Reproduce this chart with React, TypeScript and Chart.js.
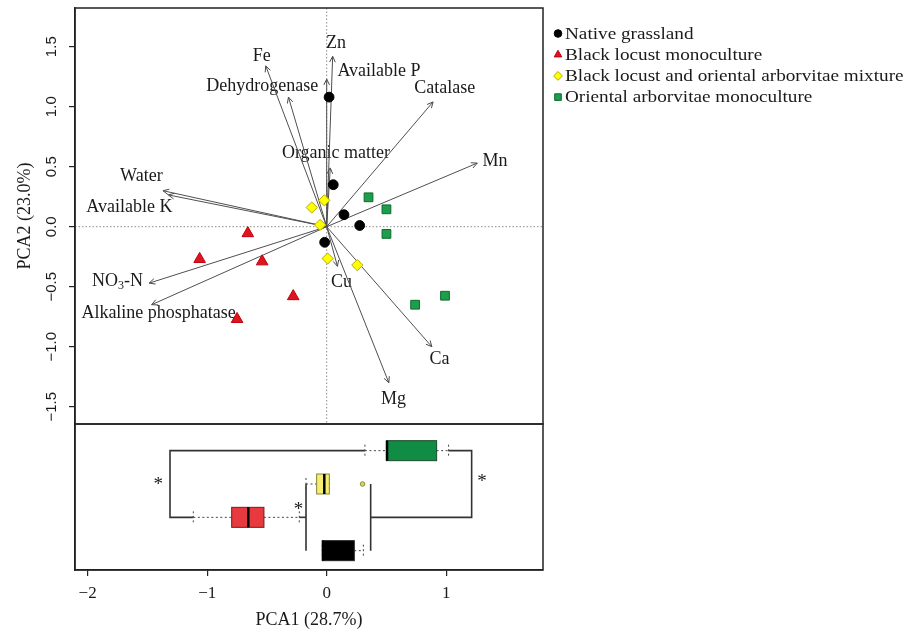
import React, { useEffect, useRef } from "react";
import { Chart, registerables } from "chart.js";

Chart.register(...registerables);

// ---------------- data ----------------
const groupNames = [
  "Native grassland",
  "Black locust monoculture",
  "Black locust and oriental arborvitae mixture",
  "Oriental arborvitae monoculture",
];

// PCA site scores
const nativePC1 = [0.02, 0.055, 0.145, 0.276, -0.017];
const nativePC2 = [1.08, 0.35, 0.1, 0.01, -0.13];
const locustPC1 = [-0.66, -1.063, -0.54, -0.28, -0.75];
const locustPC2 = [-0.055, -0.27, -0.29, -0.58, -0.77];
const mixturePC1 = [-0.125, -0.02, -0.055, 0.008, 0.256];
const mixturePC2 = [0.16, 0.22, 0.015, -0.265, -0.32];
const arborPC1 = [0.35, 0.5, 0.5, 0.99, 0.74];
const arborPC2 = [0.245, 0.145, -0.06, -0.575, -0.65];

// variable loadings (arrow tips)
const varNames = [
  "Zn", "Available P", "Fe", "Dehydrogenase", "Catalase", "Organic matter", "Mn",
  "Water", "Available K", "NO3-N", "Alkaline phosphatase", "Cu", "Mg", "Ca",
];
const varPC1 = [0.05, 0.0, -0.51, -0.32, 0.89, 0.03, 1.26, -1.37, -1.325, -1.485, -1.465, 0.09, 0.52, 0.88];
const varPC2 = [1.42, 1.23, 1.34, 1.08, 1.04, 0.49, 0.53, 0.3, 0.265, -0.47, -0.65, -0.33, -1.3, -1.0];

const xTicks = [-2, -1, 0, 1];
const yTicks = [-1.5, -1, -0.5, 0, 0.5, 1, 1.5];

// boxplot of PCA1 per group (order as groupNames)
const boxRow = [1, 2, 3, 4];
const boxLow = [-0.037, -1.116, -0.173, 0.32];
const boxQ1 = [-0.037, -0.795, -0.084, 0.5];
const boxMedian = [-0.03, -0.656, -0.02, 0.505];
const boxQ3 = [0.231, -0.525, 0.022, 0.92];
const boxHigh = [0.307, -0.229, 0.022, 1.02];
const outlierGroup = [2];
const outlierPC1 = [0.3];

// significance brackets (PCA1, row)
const bracket1X = [-1.116, -1.311, -1.311, 0.32];
const bracket1Y = [2, 2, 4, 4];
const bracket2X = [1.02, 1.213, 1.213, 0.368];
const bracket2Y = [4, 4, 2, 2];
const bracket3X = [-0.173, -0.173];
const bracket3Y = [3, 1];
const bracket4X = [0.368, 0.368];
const bracket4Y = [3, 1];
const bracket5X = [-0.229, -0.173];
const bracket5Y = [2, 2];
const starPC1 = [-1.41, 1.3, -0.235];
const starRow = [3.07, 3.14, 2.3];

// ---------------- layout / style ----------------
const LABEL_DX = [3.3, 52.3, -4, -26.3, 11.7, 5.7, 17.7, -21.6, -39, -31.6, 7, 4, 4.7, 7.7];
const LABEL_DY = [-13.3, -8, -10, -10.7, -13.3, -14.3, -2.3, -14, 12.3, -2.3, 8.3, 16, 16.6, 12.6];

const SERIF = '"Liberation Serif", "Times New Roman", serif';
const SANS = '"Liberation Sans", Arial, sans-serif';
const TEXT = "#1a1a1a";

const pointStyles = ["circle", "triangle", "rectRot", "rect"];
const pointRadii = [4.9, 6.7, 5.6, 6.2];
const pointFill = ["#000000", "#e0141e", "#ffff00", "#1c9e4b"];
const pointBorder = ["#000000", "#c00010", "#b8a800", "#0d6a30"];
const boxFill = ["#000000", "#e8393e", "#f6ee6e", "#108c45"];
const boxBorder = ["#222222", "#6a2020", "#8a8440", "#1d4a2a"];

function drawMarker(ctx: CanvasRenderingContext2D, style: string, x: number, y: number, s: number, fill: string, stroke: string) {
  ctx.save();
  ctx.fillStyle = fill;
  ctx.strokeStyle = stroke;
  ctx.lineWidth = 1;
  ctx.beginPath();
  if (style === "circle") {
    ctx.arc(x, y, s, 0, Math.PI * 2);
  } else if (style === "triangle") {
    ctx.moveTo(x, y - s);
    ctx.lineTo(x + s * 0.866, y + s * 0.5);
    ctx.lineTo(x - s * 0.866, y + s * 0.5);
    ctx.closePath();
  } else if (style === "rectRot") {
    ctx.moveTo(x - s, y);
    ctx.lineTo(x, y - s);
    ctx.lineTo(x + s, y);
    ctx.lineTo(x, y + s);
    ctx.closePath();
  } else {
    ctx.rect(x - s * 0.75, y - s * 0.75, s * 1.5, s * 1.5);
  }
  ctx.fill();
  ctx.stroke();
  ctx.restore();
}

const overlay = {
  id: "overlay",
  beforeDatasetsDraw(chart: any) {
    const ctx: CanvasRenderingContext2D = chart.ctx;
    const xs = chart.scales.x;
    const ys = chart.scales.y;
    // dotted zero lines in the biplot
    ctx.save();
    ctx.strokeStyle = "#8a8a8a";
    ctx.lineWidth = 1;
    ctx.setLineDash([1.5, 2]);
    const x0 = xs.getPixelForValue(0);
    const y0 = ys.getPixelForValue(0);
    ctx.beginPath();
    ctx.moveTo(x0, ys.top);
    ctx.lineTo(x0, ys.bottom);
    ctx.moveTo(xs.left, y0);
    ctx.lineTo(xs.right, y0);
    ctx.stroke();
    ctx.restore();

    // arrowheads and labels
    ctx.save();
    ctx.strokeStyle = "#4a4a4a";
    ctx.lineWidth = 1;
    for (let i = 0; i < varNames.length; i++) {
      const tx = xs.getPixelForValue(varPC1[i]);
      const ty = ys.getPixelForValue(varPC2[i]);
      const a = Math.atan2(ty - y0, tx - x0);
      const L = 6.5;
      const sp = 0.45;
      ctx.beginPath();
      ctx.moveTo(tx - L * Math.cos(a - sp), ty - L * Math.sin(a - sp));
      ctx.lineTo(tx, ty);
      ctx.lineTo(tx - L * Math.cos(a + sp), ty - L * Math.sin(a + sp));
      ctx.stroke();

      const lx = tx + LABEL_DX[i];
      const ly = ty + LABEL_DY[i];
      ctx.fillStyle = TEXT;
      ctx.textBaseline = "middle";
      const name = varNames[i];
      if (name === "NO3-N") {
        const big = `18px ${SERIF}`;
        const small = `12px ${SERIF}`;
        ctx.font = big;
        const w1 = ctx.measureText("NO").width;
        const w3 = ctx.measureText("-N").width;
        ctx.font = small;
        const w2 = ctx.measureText("3").width;
        let sx = lx - (w1 + w2 + w3) / 2;
        ctx.textAlign = "left";
        ctx.font = big;
        ctx.fillText("NO", sx, ly);
        ctx.font = small;
        ctx.fillText("3", sx + w1, ly + 5);
        ctx.font = big;
        ctx.fillText("-N", sx + w1 + w2, ly);
      } else {
        ctx.font = `18px ${SERIF}`;
        ctx.textAlign = "center";
        ctx.fillText(name, lx, ly);
      }
    }
    ctx.restore();
  },
  afterDatasetsDraw(chart: any) {
    const ctx: CanvasRenderingContext2D = chart.ctx;
    const xs = chart.scales.x;
    const ys = chart.scales.y;
    const yb = chart.scales.yb;

    // boxplots
    for (let g = 0; g < groupNames.length; g++) {
      const yc = yb.getPixelForValue(boxRow[g]);
      const hh = Math.abs(yb.getPixelForValue(boxRow[g] + 0.3) - yc);
      const pL = xs.getPixelForValue(boxLow[g]);
      const p1 = xs.getPixelForValue(boxQ1[g]);
      const pm = xs.getPixelForValue(boxMedian[g]);
      const p3 = xs.getPixelForValue(boxQ3[g]);
      const pH = xs.getPixelForValue(boxHigh[g]);
      ctx.save();
      ctx.strokeStyle = "#444";
      ctx.lineWidth = 1;
      ctx.setLineDash([2, 2.5]);
      ctx.beginPath();
      ctx.moveTo(pL, yc);
      ctx.lineTo(p1, yc);
      ctx.moveTo(p3, yc);
      ctx.lineTo(pH, yc);
      ctx.moveTo(pL, yc - 6);
      ctx.lineTo(pL, yc + 6);
      ctx.moveTo(pH, yc - 6);
      ctx.lineTo(pH, yc + 6);
      ctx.stroke();
      ctx.setLineDash([]);
      ctx.fillStyle = boxFill[g];
      ctx.fillRect(p1, yc - hh, p3 - p1, hh * 2);
      ctx.strokeStyle = boxBorder[g];
      ctx.strokeRect(p1, yc - hh, p3 - p1, hh * 2);
      ctx.strokeStyle = "#000";
      ctx.lineWidth = 2.5;
      ctx.beginPath();
      ctx.moveTo(pm, yc - hh);
      ctx.lineTo(pm, yc + hh);
      ctx.stroke();
      ctx.restore();
    }
    for (let k = 0; k < outlierGroup.length; k++) {
      const g = outlierGroup[k];
      const px = xs.getPixelForValue(outlierPC1[k]);
      const py = yb.getPixelForValue(boxRow[g]);
      ctx.save();
      ctx.beginPath();
      ctx.arc(px, py, 2.3, 0, Math.PI * 2);
      ctx.fillStyle = "#d6d46a";
      ctx.fill();
      ctx.strokeStyle = "#8f8f30";
      ctx.lineWidth = 1;
      ctx.stroke();
      ctx.restore();
    }
    // asterisks
    ctx.save();
    ctx.fillStyle = TEXT;
    ctx.font = `19px ${SERIF}`;
    ctx.textAlign = "center";
    ctx.textBaseline = "middle";
    for (let k = 0; k < starPC1.length; k++) {
      ctx.fillText("*", xs.getPixelForValue(starPC1[k]), yb.getPixelForValue(starRow[k]) + 3);
    }
    ctx.restore();

    // frames of both panels
    ctx.save();
    ctx.strokeStyle = "#222";
    ctx.lineWidth = 1.5;
    ctx.strokeRect(xs.left, ys.top, xs.right - xs.left, ys.bottom - ys.top);
    ctx.strokeRect(xs.left, yb.top, xs.right - xs.left, yb.bottom - yb.top);
    ctx.restore();

    // y tick labels (rotated, R style)
    ctx.save();
    ctx.fillStyle = TEXT;
    ctx.font = `15px ${SANS}`;
    ctx.textAlign = "center";
    ctx.textBaseline = "middle";
    for (const v of yTicks) {
      const py = ys.getPixelForValue(v);
      ctx.save();
      ctx.translate(ys.left + 52, py);
      ctx.rotate(-Math.PI / 2);
      ctx.fillText(v.toFixed(1).replace("-", "\u2212"), 0, 0);
      ctx.restore();
    }
    ctx.restore();

    // legend
    ctx.save();
    for (let g = 0; g < groupNames.length; g++) {
      const cy = 33.5 + g * 21.2;
      drawMarker(ctx, pointStyles[g], 558, cy, g === 0 ? 3.8 : 4.4, pointFill[g], pointBorder[g]);
      ctx.save();
      ctx.translate(565, cy + 1);
      ctx.scale(1.2, 1);
      ctx.fillStyle = TEXT;
      ctx.font = `16px ${SERIF}`;
      ctx.textAlign = "left";
      ctx.textBaseline = "middle";
      ctx.fillText(groupNames[g], 0, 0);
      ctx.restore();
    }
    ctx.restore();
  },
};

const toPts = (xs: number[], ys: number[]) => xs.map((x, i) => ({ x, y: ys[i] }));

export default function App() {
  const ref = useRef<HTMLCanvasElement | null>(null);
  useEffect(() => {
    if (!ref.current) return;
    const arrowSets = varNames.map((n, i) => ({
      label: n,
      data: [{ x: 0, y: 0 }, { x: varPC1[i], y: varPC2[i] }],
      showLine: true,
      borderColor: "#4f4f4f",
      borderWidth: 1,
      pointRadius: 0,
      yAxisID: "y",
      order: 3,
    }));
    const brackets = [
      [bracket1X, bracket1Y],
      [bracket2X, bracket2Y],
      [bracket3X, bracket3Y],
      [bracket4X, bracket4Y],
      [bracket5X, bracket5Y],
    ].map(([bx, by], i) => ({
      label: "bracket" + i,
      data: toPts(bx, by),
      showLine: true,
      borderColor: "#333",
      borderWidth: 1.6,
      pointRadius: 0,
      yAxisID: "yb",
      order: 2,
    }));
    const scoreX = [nativePC1, locustPC1, mixturePC1, arborPC1];
    const scoreY = [nativePC2, locustPC2, mixturePC2, arborPC2];
    const pointSets = groupNames.map((n, g) => ({
      label: n,
      data: toPts(scoreX[g], scoreY[g]),
      showLine: false,
      pointStyle: pointStyles[g],
      pointRadius: pointRadii[g],
      backgroundColor: pointFill[g],
      borderColor: pointBorder[g],
      borderWidth: 1,
      yAxisID: "y",
      order: 0,
    }));

    const chart = new Chart(ref.current, {
      type: "scatter",
      data: { datasets: [...arrowSets, ...brackets, ...pointSets] as any },
      options: {
        animation: false,
        responsive: false,
        devicePixelRatio: 1,
        events: [],
        layout: { padding: { top: 8, right: 368, left: 0, bottom: 0 } },
        plugins: { legend: { display: false }, tooltip: { enabled: false } },
        scales: {
          x: {
            type: "linear",
            position: "bottom",
            min: -2.106,
            max: 1.81,
            afterBuildTicks: (s: any) => {
              s.ticks = xTicks.map((v) => ({ value: v }));
            },
            afterFit: (s: any) => {
              s.height = 62;
            },
            ticks: {
              color: TEXT,
              font: { family: SERIF, size: 17 },
              padding: 7,
              callback: (v: any) => String(v).replace("-", "\u2212"),
            },
            grid: { drawOnChartArea: false, drawTicks: true, tickLength: 6, color: "#222", lineWidth: 1.2 },
            border: { display: true, color: "#222", width: 1.5 },
            title: { display: true, text: "PCA1 (28.7%)", color: TEXT, font: { family: SERIF, size: 18 }, padding: { top: 0, bottom: 1 } },
          },
          yb: {
            type: "linear",
            position: "left",
            stack: "panels",
            stackWeight: 146,
            weight: 0,
            min: 0.42,
            max: 4.8,
            afterFit: (s: any) => {
              s.width = 75;
            },
            ticks: { display: false },
            grid: { display: false },
            border: { display: true, color: "#222", width: 1.5 },
          },
          y: {
            type: "linear",
            position: "left",
            stack: "panels",
            stackWeight: 416,
            weight: 1,
            min: -1.644,
            max: 1.8225,
            afterBuildTicks: (s: any) => {
              s.ticks = yTicks.map((v) => ({ value: v }));
            },
            afterFit: (s: any) => {
              s.width = 75;
            },
            ticks: { display: false },
            grid: { drawOnChartArea: false, drawTicks: true, tickLength: 6, color: "#222", lineWidth: 1.2 },
            border: { display: true, color: "#222", width: 1.5 },
            title: { display: true, text: "PCA2 (23.0%)", color: TEXT, font: { family: SERIF, size: 18 }, padding: { top: 14, bottom: 0 } },
          },
        } as any,
      },
      plugins: [overlay],
    });
    return () => chart.destroy();
  }, []);

  return (
    <div style={{ position: "fixed", left: 0, top: 0, width: 911, height: 632, background: "#fff" }}>
      <canvas ref={ref} width={911} height={632} style={{ width: 911, height: 632, display: "block" }} />
    </div>
  );
}
